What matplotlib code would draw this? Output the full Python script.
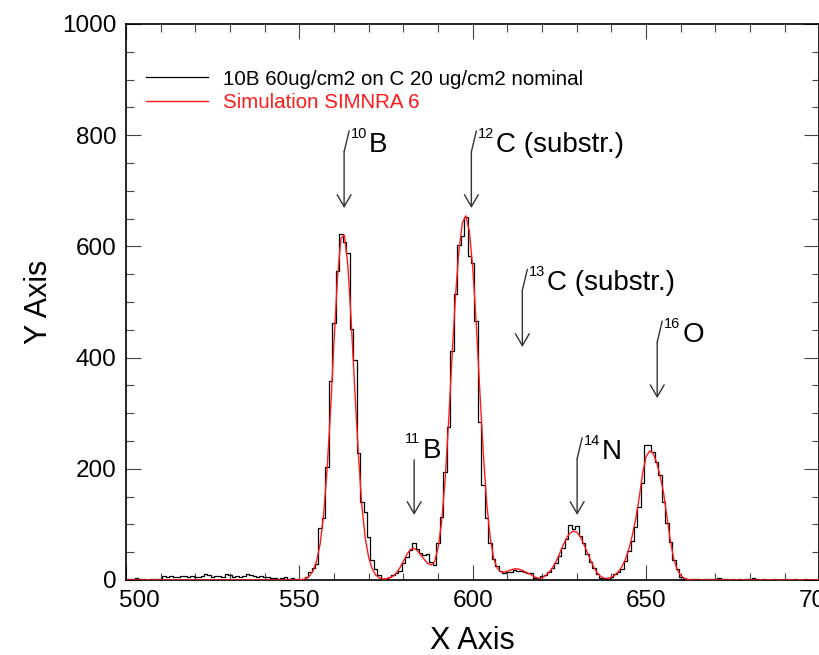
import matplotlib
matplotlib.use("Agg")
import matplotlib.pyplot as plt
from matplotlib.ticker import MultipleLocator, FuncFormatter

plt.rcParams['font.family'] = ['Liberation Sans', 'DejaVu Sans']

# Channel axis (one bin per unit, 500..700)
channels = list(range(500, 701))

# Measured spectrum: 10B 60 ug/cm2 on C 20 ug/cm2
counts = [
    2, 1, 2, 3, 1, 2, 0, 1, 2, 1,            # 500-509
    2, 7, 6, 7, 5, 6, 7, 8, 6, 7,            # 510-519
    5, 6, 8, 10, 9, 6, 8, 7, 5, 10,          # 520-529
    9, 6, 7, 5, 8, 11, 9, 7, 6, 8,           # 530-539
    6, 5, 3, 4, 2, 3, 5, 2, 3, 1,            # 540-549
    2, 1, 5, 15, 21, 28, 93, 111, 204, 358,  # 550-559
    462, 556, 623, 608, 589, 451, 396, 228, 141, 123,  # 560-569
    78, 36, 20, 9, 2, 2, 5, 9, 12, 17,       # 570-579
    30, 42, 54, 66, 55, 48, 45, 46, 32, 27,  # 580-589
    66, 114, 195, 276, 411, 514, 602, 619, 653, 582,   # 590-599
    570, 465, 285, 171, 111, 66, 37, 25, 16, 12,       # 600-609
    15, 15, 18, 17, 16, 14, 12, 12, 4, 3,    # 610-619
    7, 9, 15, 21, 31, 44, 57, 74, 99, 92,    # 620-629
    98, 80, 66, 47, 33, 21, 11, 3, 1, 2,     # 630-639
    5, 10, 15, 20, 34, 52, 70, 96, 132, 175, # 640-649
    243, 243, 231, 213, 189, 141, 102, 69, 36, 20,     # 650-659
    6, 2, 1, 1, 2, 1, 0, 1, 2, 1,            # 660-669
    0, 3, 2, 1, 0, 1, 0, 1, 0, 1,            # 670-679
    2, 3, 1, 0, 1, 0, 0, 1, 0, 0,            # 680-689
    1, 0, 0, 1, 0, 0, 1, 0, 0, 0,            # 690-699
    0,                                       # 700
]

# SIMNRA 6 simulated spectrum on the same channels
simulation = [
    0, 0, 0, 0, 0, 0, 0, 0, 0, 0,            # 500-509
    0, 0, 0, 0, 0, 0, 0, 0, 0, 0,            # 510-519
    0, 0, 0, 0, 0, 0, 0, 0, 0, 0,            # 520-529
    0, 0, 0, 0, 0, 0, 0, 0, 0, 0,            # 530-539
    0, 0, 0, 0, 0, 0, 0, 0, 0, 0,            # 540-549
    0, 1, 3, 8, 17, 35, 65, 118, 200, 305,   # 550-559
    430, 545, 615, 620, 565, 460, 340, 228, 135, 75,   # 560-569
    40, 20, 9, 4, 2, 2, 4, 7, 13, 22,        # 570-579
    34, 46, 55, 57, 53, 45, 37, 30, 27, 33,  # 580-589
    58, 103, 178, 280, 398, 508, 592, 642, 655, 628,   # 590-599
    562, 462, 345, 232, 140, 78, 40, 22, 15, 14,       # 600-609
    16, 18, 20, 20, 18, 15, 12, 9, 5, 3,     # 610-619
    4, 8, 14, 22, 33, 47, 62, 75, 84, 88,    # 620-629
    86, 78, 65, 50, 35, 22, 12, 6, 3, 3,     # 630-639
    5, 9, 15, 24, 37, 55, 80, 110, 148, 192, # 640-649
    222, 232, 228, 212, 188, 158, 114, 70, 37, 18,     # 650-659
    8, 3, 1, 0, 0, 0, 0, 0, 0, 0,            # 660-669
    0, 0, 0, 0, 0, 0, 0, 0, 0, 0,            # 670-679
    0, 0, 0, 0, 0, 0, 0, 0, 0, 0,            # 680-689
    0, 0, 0, 0, 0, 0, 0, 0, 0, 0,            # 690-699
    0,                                       # 700
]

legend_labels = ["10B 60ug/cm2 on C 20 ug/cm2 nominal", "Simulation SIMNRA 6"]

# Peak markers: mass number, element text, arrow x, arrow top, arrow tip
peak_mass = ["10", "11", "12", "13", "14", "16"]
peak_text = ["B", "B", "C (substr.)", "C (substr.)", "N", "O"]
peak_x = [562.9, 583.1, 599.6, 614.3, 630.1, 653.2]
peak_top = [770, 216, 770, 521, 218, 428]
peak_tip = [669, 117, 669, 419, 117, 327]

x_min, x_max = 500, 700
y_min, y_max = 0, 1000

fig = plt.figure(figsize=(8.2, 6.55), dpi=100)
ax = fig.add_axes([126 / 820, 75 / 655, 693.5 / 820, 556 / 655])

line_meas, = ax.step(channels, counts, where='mid', color='black', lw=0.9,
                     zorder=3)
line_sim, = ax.plot(channels, simulation, color='#ff1a1a', lw=1.0, zorder=4)

ax.set_xlim(x_min, x_max)
ax.set_ylim(y_min, y_max)

ax.xaxis.set_major_locator(MultipleLocator(50))
ax.xaxis.set_minor_locator(MultipleLocator(10))
ax.yaxis.set_major_locator(MultipleLocator(200))
ax.yaxis.set_minor_locator(MultipleLocator(50))

# the first x label is drawn separately, nudged clear of the y-axis "0"
ax.xaxis.set_major_formatter(
    FuncFormatter(lambda v, pos: '' if v == x_min else f'{v:.0f}'))

ax.tick_params(which='both', direction='in', top=True, right=True,
               color='#444444', width=0.8)
ax.tick_params(which='major', length=10.8, labelsize=17.5, pad=7)
ax.tick_params(which='minor', length=5.4)
for sp in ax.spines.values():
    sp.set_linewidth(1.2)
    sp.set_color('black')

ax.annotate(f'{x_min}', xy=(x_min, 0), xycoords=('data', 'axes fraction'),
            xytext=(13 * 0.72, -7), textcoords='offset points',
            ha='center', va='top', fontsize=17.5)

ax.set_xlabel("X Axis", fontsize=22, labelpad=10)
ax.set_ylabel("Y Axis", fontsize=22, labelpad=6)

leg = ax.legend([line_meas, line_sim], legend_labels, loc='upper left',
                bbox_to_anchor=(0.029, 0.918), frameon=False, fontsize=14.8,
                handlelength=3.0, handletextpad=0.75, labelspacing=0.2,
                borderpad=0, borderaxespad=0)
for txt, col in zip(leg.get_texts(), ['black', '#ff1a1a']):
    txt.set_color(col)

arrow_color = '#333333'
px = 0.72  # points per pixel at 100 dpi
for m, t, x, ytop, ytip in zip(peak_mass, peak_text, peak_x, peak_top,
                               peak_tip):
    ax.annotate('', xy=(x, ytip), xytext=(x, ytop),
                arrowprops=dict(arrowstyle='->, head_length=0.86, head_width=0.5',
                                color=arrow_color, lw=1.0, mutation_scale=10,
                                shrinkA=0, shrinkB=0))
    if m == "11":
        sup_off = (-9 * px, 17 * px)
        main_off = (9 * px, 2 * px)
    else:
        ax.annotate('', xy=(x, ytop), xytext=(5 * px, 21 * px),
                    textcoords='offset points',
                    arrowprops=dict(arrowstyle='-', color=arrow_color, lw=1.0,
                                    shrinkA=0, shrinkB=0))
        sup_off = (7 * px, 14 * px)
        main_off = (25 * px, 0)
    ax.annotate(m, xy=(x, ytop), xytext=sup_off, textcoords='offset points',
                fontsize=10.5, ha='left', va='baseline', color='black')
    ax.annotate(t, xy=(x, ytop), xytext=main_off, textcoords='offset points',
                fontsize=20, ha='left', va='baseline', color='black')

fig.savefig("out.png", dpi=100)
